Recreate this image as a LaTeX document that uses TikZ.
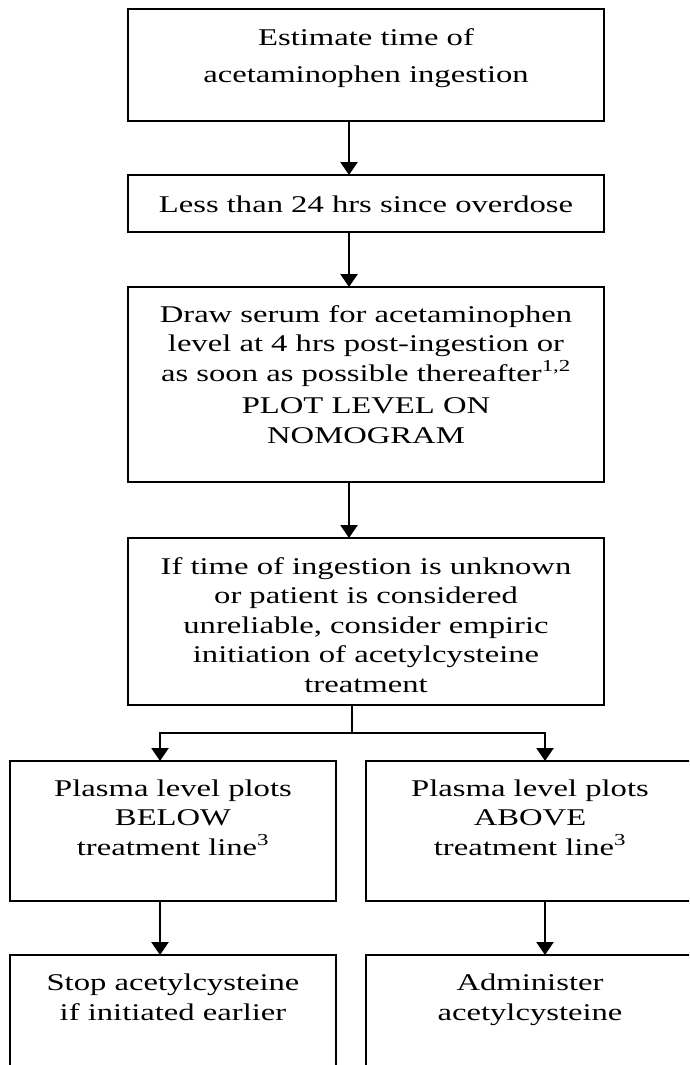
\documentclass[tikz,border=0pt]{standalone}
\usepackage{fontspec}
\setmainfont[FakeStretch=1.36]{Liberation Serif}
\usetikzlibrary{arrows.meta}
\begin{document}
\begin{tikzpicture}[x=1pt,y=-1pt,
  box/.style={draw=black,line width=2.5pt,inner sep=0pt,outer sep=0pt,anchor=north west},
  txt/.style={align=center,inner sep=0pt,anchor=base,font=\fontsize{24}{29.5}\selectfont},
  conn/.style={line width=2.5pt,draw=black},
  arr/.style={conn,-{Triangle[width=17pt,length=13pt]}}]
\useasboundingbox (0,0) rectangle (689,1065);
\fill[white] (0,0) rectangle (689,1065);
\clip (0,0) rectangle (689,1065);
% boxes
\node[box,minimum width=476pt,minimum height=112pt] (b1) at (128,9) {};
\node[box,minimum width=476pt,minimum height=57pt] (b2) at (128,175) {};
\node[box,minimum width=476pt,minimum height=195pt] (b3) at (128,287) {};
\node[box,minimum width=476pt,minimum height=167pt] (b4) at (128,538) {};
\node[box,minimum width=326pt,minimum height=140pt] (b5l) at (10,761) {};
\node[box,minimum width=326pt,minimum height=140pt] (b5r) at (366,761) {};
\node[box,minimum width=326pt,minimum height=140pt] (b6l) at (10,955) {};
\node[box,minimum width=326pt,minimum height=140pt] (b6r) at (366,955) {};
% texts (anchor base = baseline of the last line)
\node[txt,font=\fontsize{24}{37}\selectfont] (t1) at (366,82) {Estimate time of\\acetaminophen ingestion};
\node[txt] (t2) at (366,212) {Less than 24 hrs since overdose};
\node[txt] (t3) at (366,443) {Draw serum for acetaminophen\\level at 4 hrs post-ingestion or\\as soon as possible thereafter\textsuperscript{1,2}\\[3pt]PLOT LEVEL ON\\NOMOGRAM};
\node[txt] (t4) at (366,692) {If time of ingestion is unknown\\or patient is considered\\unreliable, consider empiric\\initiation of acetylcysteine\\treatment};
\node[txt] (t5l) at (173,855) {Plasma level plots\\BELOW\\treatment line\textsuperscript{3}};
\node[txt] (t5r) at (530,855) {Plasma level plots\\ABOVE\\treatment line\textsuperscript{3}};
\node[txt] (t6l) at (173,1020) {Stop acetylcysteine\\if initiated earlier};
\node[txt] (t6r) at (530,1020) {Administer\\acetylcysteine};
% connectors
\draw[arr] ([xshift=-17pt]b1.south) -- ([xshift=-17pt]b2.north);
\draw[arr] ([xshift=-17pt]b2.south) -- ([xshift=-17pt]b3.north);
\draw[arr] ([xshift=-17pt]b3.south) -- ([xshift=-17pt]b4.north);
\coordinate (split) at (352,733);
\draw[conn] ([xshift=-14pt]b4.south) -- (split);
\draw[arr] (split) -| ([xshift=-13pt]b5l.north);
\draw[arr] (split) -| ([xshift=16pt]b5r.north);
\draw[arr] ([xshift=-13pt]b5l.south) -- ([xshift=-13pt]b6l.north);
\draw[arr] ([xshift=16pt]b5r.south) -- ([xshift=16pt]b6r.north);
\end{tikzpicture}
\end{document}
